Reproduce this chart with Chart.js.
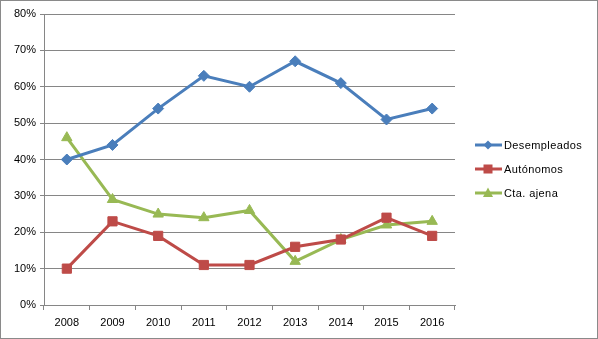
<!DOCTYPE html>
<html><head><meta charset="utf-8">
<script src="https://cdn.jsdelivr.net/npm/chart.js@4"></script>
<style>
html,body{margin:0;padding:0;background:#fff;}
#wrap{position:relative;width:598px;height:339px;box-sizing:border-box;border:1px solid #8a8a8a;background:#fff;}
#c{position:absolute;left:0;top:0;}
#legend{position:absolute;left:473px;top:132px;font-family:"Liberation Sans",Arial,sans-serif;font-size:11px;color:#000;letter-spacing:0.4px;}
.item{display:flex;align-items:center;height:24px;}
.item svg{margin-right:1px;}
</style></head>
<body>
<div id="wrap"><canvas id="c" width="596" height="337"></canvas><div id="legend"></div></div>
<script>
const categories = ['2008','2009','2010','2011','2012','2013','2014','2015','2016'];
const desempleados = [40, 44, 54, 63, 60, 67, 61, 51, 54];
const autonomos = [10, 23, 19, 11, 11, 16, 18, 24, 19];
const ctaAjena = [46, 29, 25, 24, 26, 12, 18, 22, 23];
const seriesNames = ['Desempleados', 'Autónomos', 'Cta. ajena'];
const yTicks = [0, 10, 20, 30, 40, 50, 60, 70, 80];

const colors = ['#4A7EBB', '#BE4B48', '#98B954'];
const markers = ['rectRot', 'rect', 'triangle'];
const radii = [5.5, 6.5, 6];

const font = {family: '"Liberation Sans", Arial, sans-serif', size: 11};
const grid = '#868686';

const datasets = [desempleados, autonomos, ctaAjena].map((d, i) => ({
  label: seriesNames[i], data: d,
  borderColor: colors[i], backgroundColor: colors[i],
  borderWidth: 3, pointStyle: markers[i], pointRadius: radii[i],
  pointBorderWidth: 1, pointBorderColor: colors[i], pointBackgroundColor: colors[i],
  tension: 0, fill: false
}));

new Chart(document.getElementById('c'), {
  type: 'line',
  data: {labels: categories, datasets},
  options: {
    responsive: false, animation: false,
    layout: {padding: {left: 0, top: 13, right: 142, bottom: 0}},
    plugins: {legend: {display: false}, tooltip: {enabled: false}},
    scales: {
      x: {
        offset: true,
        grid: {display: true, offset: true, drawOnChartArea: false, drawTicks: true, tickLength: 5, color: grid},
        border: {display: true, color: grid, width: 1},
        ticks: {font, color: '#000', padding: 6, maxRotation: 0},
        afterFit: s => { s.height = 33; }
      },
      y: {
        min: 0, max: 80,
        afterBuildTicks: s => { s.ticks = yTicks.map(v => ({value: v})); },
        grid: {color: grid, tickLength: 4, drawTicks: true},
        border: {display: true, color: grid, width: 1},
        ticks: {font, color: '#000', padding: 4, callback: v => v + '%'},
        afterFit: s => { s.width = 43; }
      }
    }
  }
});

// HTML legend
const legend = document.getElementById('legend');
function symbol(i) {
  const c = colors[i];
  let shape = '';
  if (i === 0) shape = `<polygon points="14,1.5 18.5,6 14,10.5 9.5,6" fill="${c}"/>`;
  if (i === 1) shape = `<rect x="9.5" y="1.5" width="9" height="9" fill="${c}"/>`;
  if (i === 2) shape = `<polygon points="14,0.5 19,10 9,10" fill="${c}"/>`;
  return `<svg width="29" height="12" viewBox="0 0 29 12"><line x1="1" y1="6" x2="28" y2="6" stroke="${c}" stroke-width="3"/>${shape}</svg>`;
}
seriesNames.forEach((n, i) => {
  const d = document.createElement('div');
  d.className = 'item';
  d.innerHTML = symbol(i) + '<span>' + n + '</span>';
  legend.appendChild(d);
});
</script>
</body></html>
